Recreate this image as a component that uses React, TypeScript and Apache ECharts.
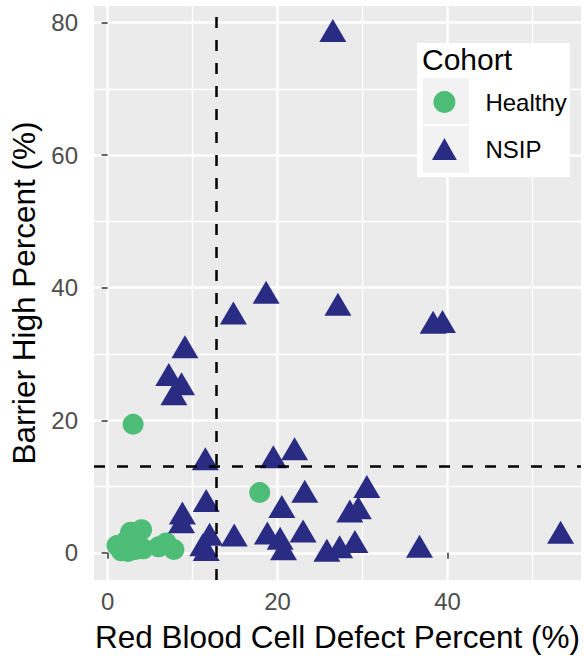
import React, { useEffect, useRef } from "react";
import * as echarts from "echarts";

const healthyX = [3.0, 17.9, 1.1, 1.6, 2.4, 2.7, 3.4, 4.0, 3.3, 4.2, 6.0, 6.9, 7.8, 2.2];
const healthyY = [19.4, 9.1, 1.1, 0.3, 0.2, 3.1, 2.2, 3.5, 0.5, 0.6, 0.9, 1.5, 0.5, 1.8];

const nsipX = [26.5, 18.65, 14.8, 27.1, 38.3, 39.4, 9.1, 7.2, 8.7, 7.8, 11.5, 19.5, 22.0, 23.2, 11.6, 20.5, 8.8, 8.7, 12.0, 11.2, 11.6, 14.9, 18.8, 20.3, 20.7, 23.0, 25.8, 27.3, 29.1, 28.5, 29.5, 30.5, 36.7, 53.3];
const nsipY = [78.8, 39.3, 36.2, 37.5, 34.8, 34.9, 31.1, 26.9, 25.5, 24.0, 14.2, 14.5, 15.7, 9.3, 7.9, 7.0, 6.0, 4.7, 2.8, 1.2, 0.5, 2.7, 3.0, 2.2, 0.6, 3.3, 0.4, 0.9, 1.7, 6.3, 6.8, 10.0, 1.0, 3.1];

const xTicks = [0, 20, 40];
const yTicks = [0, 20, 40, 60, 80];
const xCut = 12.8;
const yCut = 13;

const FONT = "'Liberation Sans', Arial, Helvetica, sans-serif";

const GRID = { left: 92, top: 6, right: 0, bottom: 79 };
const W = 584;
const H = 659;

export default function App() {
  const ref = useRef<HTMLDivElement>(null);
  useEffect(() => {
    document.body.style.margin = "0";
    if (!ref.current) return;
    const chart = echarts.init(ref.current, undefined, { renderer: "svg" });
    const pairs = (xs: number[], ys: number[]) => xs.map((x, i) => [x, ys[i]]);
    const axisCommon = {
      type: "value",
      z: 1,
      minInterval: 20,
      maxInterval: 20,
      axisLine: { show: false },
      axisTick: { show: true, length: 6, lineStyle: { color: "#333", width: 1.5 } },
      splitLine: { show: true, lineStyle: { color: "#ffffff", width: 2.5, opacity: 1 } },
      minorTick: { show: false, splitNumber: 2 },
      minorSplitLine: { show: true, lineStyle: { color: "#ffffff", width: 1.4, opacity: 1 } },
      nameTextStyle: { fontSize: 31.5, color: "#000", fontFamily: FONT },
    };
    chart.setOption({
      animation: false,
      backgroundColor: "#ffffff",
      grid: { ...GRID, show: true, backgroundColor: "#EBEBEB", borderWidth: 0 },
      xAxis: {
        ...axisCommon,
        min: -1.6,
        max: 55.7,
        splitNumber: 3,
        name: "Red Blood Cell Defect Percent (%)",
        nameLocation: "middle",
        nameGap: 41,
        axisTick: { ...axisCommon.axisTick, customValues: xTicks },
        axisLabel: {
          fontSize: 24,
          color: "#4D4D4D",
          fontFamily: FONT,
          margin: 9,
          formatter: (v: number) => (xTicks.includes(v) ? String(v) : ""),
        },
      },
      yAxis: {
        ...axisCommon,
        min: -4.1,
        max: 82.5,
        splitNumber: 4,
        name: "Barrier High Percent (%)",
        nameLocation: "middle",
        nameGap: 54,
        axisTick: { ...axisCommon.axisTick, customValues: yTicks },
        axisLabel: {
          fontSize: 24,
          color: "#4D4D4D",
          fontFamily: FONT,
          margin: 16,
          formatter: (v: number) => (yTicks.includes(v) ? String(v) : ""),
        },
      },
      legend: {
        orient: "vertical",
        left: 432,
        top: 90,
        padding: 0,
        itemWidth: 72,
        itemHeight: 22,
        itemGap: 23,
        selectedMode: false,
        textStyle: { fontSize: 24, color: "#000", fontFamily: FONT },
        data: [
          { name: "Healthy", icon: "circle" },
          { name: "NSIP", icon: "path://M13,0L26,23L0,23Z" },
        ],
        z: 10,
      },
      graphic: [
        {
          type: "rect",
          z: 5,
          shape: { x: 417, y: 43, width: 153, height: 134 },
          style: { fill: "#ffffff" },
          silent: true,
        },
        {
          type: "rect",
          z: 6,
          shape: { x: 423, y: 78, width: 46, height: 46 },
          style: { fill: "#F2F2F2" },
          silent: true,
        },
        {
          type: "rect",
          z: 6,
          shape: { x: 423, y: 126, width: 46, height: 47 },
          style: { fill: "#F2F2F2" },
          silent: true,
        },
        {
          type: "text",
          z: 7,
          x: 422,
          y: 59,
          style: {
            text: "Cohort",
            fontSize: 30,
            fill: "#000",
            fontFamily: FONT,
            verticalAlign: "middle",
          },
          silent: true,
        },
      ],
      series: [
        {
          name: "Healthy",
          type: "scatter",
          symbol: "circle",
          symbolSize: 21,
          itemStyle: { color: "#4DBD78", opacity: 1 },
          data: pairs(healthyX, healthyY),
          z: 2,
        },
        {
          name: "NSIP",
          type: "scatter",
          symbol: "triangle",
          symbolSize: [27, 23],
          itemStyle: { color: "#2A2C84", opacity: 1 },
          data: pairs(nsipX, nsipY),
          z: 3,
          markLine: {
            silent: true,
            symbol: "none",
            label: { show: false },
            lineStyle: { color: "#000", width: 2.5, type: [11, 12] },
            data: [{ xAxis: xCut }, { yAxis: yCut }],
            z: 8,
          },
        },
      ],
    });
    return () => chart.dispose();
  }, []);
  return <div ref={ref} style={{ width: W, height: H }} />;
}
